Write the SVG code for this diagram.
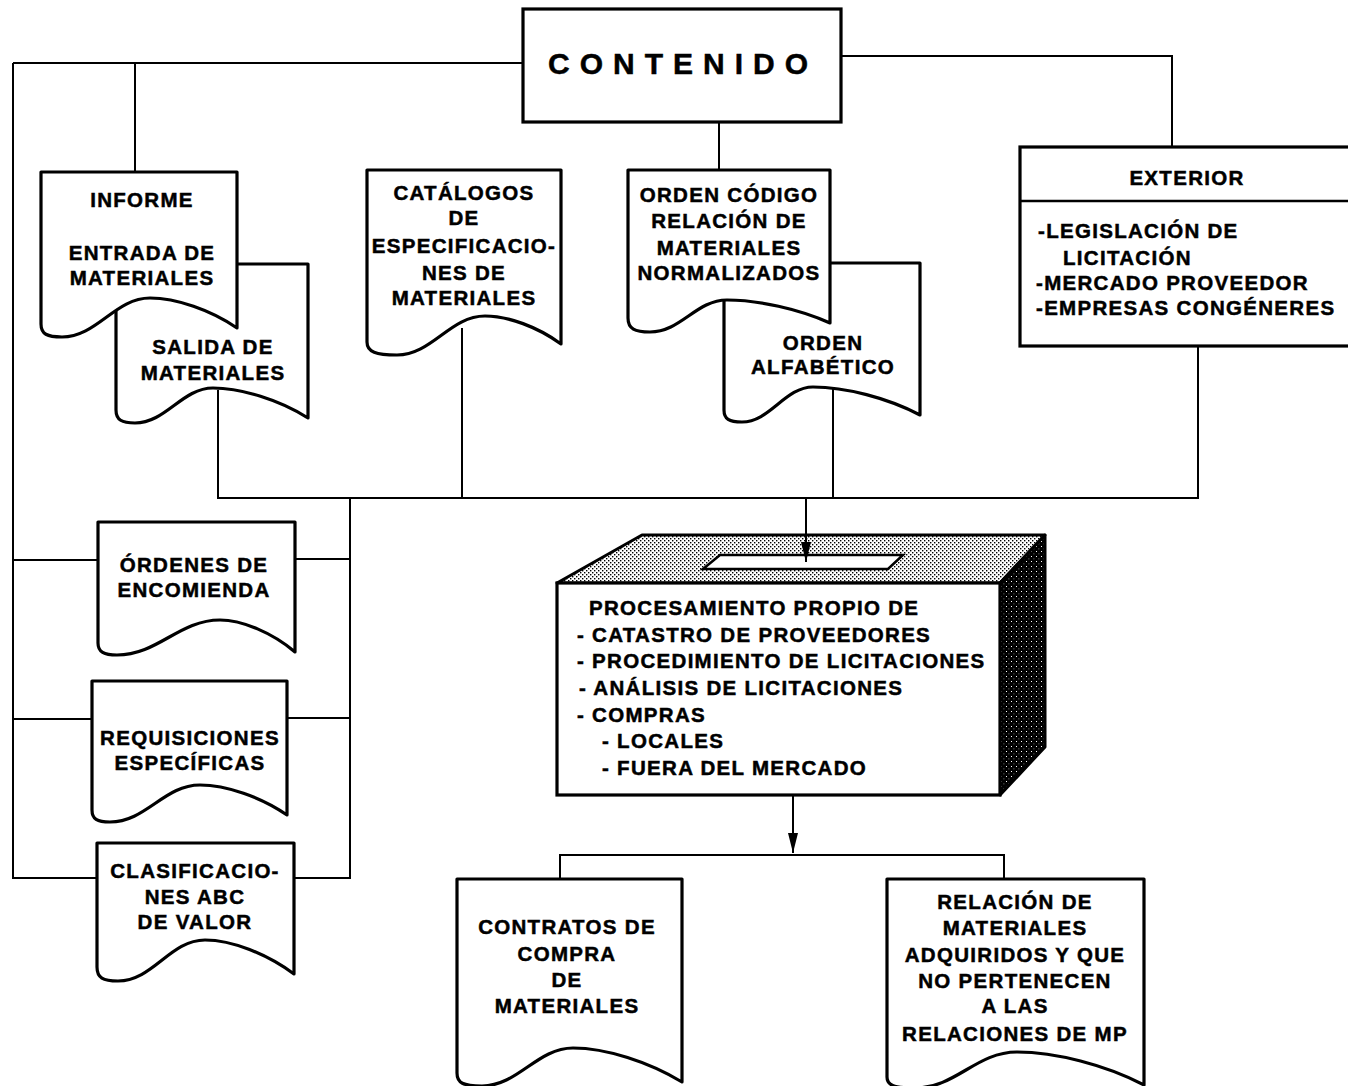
<svg xmlns="http://www.w3.org/2000/svg" width="1348" height="1086" viewBox="0 0 1348 1086">
  <style>
    .doc { fill: #fff; stroke: #000; stroke-width: 3.2; stroke-linejoin: round; }
    .box { fill: #fff; stroke: #000; stroke-width: 3.2; }
    .wire { fill: none; stroke: #000; stroke-width: 2; }
    .lbl { font-family: "Liberation Sans", Arial, Helvetica, sans-serif; font-weight: bold; font-size: 20.5px; letter-spacing: 1.3px; fill: #000; stroke: #000; stroke-width: 0.5px; }
    .c { text-anchor: middle; }
  </style>
  <defs>
    <marker id="arrow" viewBox="0 0 20 10" refX="20" refY="5" markerWidth="20" markerHeight="10" markerUnits="userSpaceOnUse" orient="auto">
      <path d="M0,0 L20,5 L0,10 Z" fill="#000"/>
    </marker>
    <!-- halftone for the lid of the box -->
    <pattern id="lidTone" width="4" height="4" patternUnits="userSpaceOnUse">
      <rect width="4" height="4" fill="#fff"/>
      <rect width="1.4" height="1.4" fill="#000"/>
      <rect x="2" y="2" width="1.4" height="1.4" fill="#000"/>
    </pattern>
    <!-- dark halftone for the side of the box -->
    <pattern id="sideTone" width="5" height="5" patternUnits="userSpaceOnUse">
      <rect width="5" height="5" fill="#000"/>
      <rect x="1" y="1" width="1" height="1" fill="#fff"/>
      <rect x="3.5" y="3.5" width="0.8" height="0.8" fill="#bbb"/>
    </pattern>
  </defs>

  <!-- connectors -->
  <g id="connectors">
    <path class="wire" d="M13,63 H523"/>
    <path class="wire" d="M13,63 V878 H97"/>
    <path class="wire" d="M13,560 H98"/>
    <path class="wire" d="M13,719 H92"/>
    <path class="wire" d="M135,63 V172"/>
    <path class="wire" d="M841,56 H1172 V147"/>
    <path class="wire" d="M719,122 V170"/>
    <path class="wire" d="M218,390 V498 H1198 V346"/>
    <path class="wire" d="M462,328 V498"/>
    <path class="wire" d="M833,388 V498"/>
    <path class="wire" d="M350,498 V878 H294"/>
    <path class="wire" d="M295,559 H350"/>
    <path class="wire" d="M287,718 H350"/>
    <path class="wire" d="M560,879 V855 H1004 V879"/>
  </g>

  <!-- title box -->
  <g id="contenido">
    <rect class="box" x="523" y="9" width="318" height="113"/>
    <text class="lbl" x="548" y="74" style="font-size:30px;letter-spacing:10px">CONTENIDO</text>
  </g>

  <!-- report of incoming / outgoing materials -->
  <g id="salida">
    <path class="doc" d="M116,264 H308 V418 C280,400 241,388 213,388 C182,388 166,423 135,423 C122,423 116,420 116,410 Z"/>
    <text class="lbl c" x="213" y="354">SALIDA DE</text>
    <text class="lbl c" x="213" y="380">MATERIALES</text>
  </g>
  <g id="informe">
    <path class="doc" d="M41,172 H237 V328 C211,310 176,298 150,298 C115,298 97,337 62,337 C47,337 41,334 41,324 Z"/>
    <text class="lbl c" x="142" y="207">INFORME</text>
    <text class="lbl c" x="142" y="260">ENTRADA DE</text>
    <text class="lbl c" x="142" y="285">MATERIALES</text>
  </g>

  <g id="catalogos">
    <path class="doc" d="M367,170 H561 V344 C538,327 508,316 485,316 C450,316 432,355 397,355 C376,355 367,352 367,342 Z"/>
    <text class="lbl c" x="464" y="200">CATÁLOGOS</text>
    <text class="lbl c" x="464" y="225">DE</text>
    <text class="lbl c" x="464" y="253">ESPECIFICACIO-</text>
    <text class="lbl c" x="464" y="280">NES DE</text>
    <text class="lbl c" x="464" y="305">MATERIALES</text>
  </g>

  <g id="orden-alfabetico">
    <path class="doc" d="M724,263 H920 V415 C888,398 845,387 813,387 C785,387 770,422 742,422 C729,422 724,419 724,410 Z"/>
    <text class="lbl c" x="823" y="350">ORDEN</text>
    <text class="lbl c" x="823" y="374">ALFABÉTICO</text>
  </g>
  <g id="orden-codigo">
    <path class="doc" d="M628,170 H830 V323 C799,309 758,300 727,300 C696,300 681,332 650,332 C635,332 628,329 628,318 Z"/>
    <text class="lbl c" x="729" y="202">ORDEN CÓDIGO</text>
    <text class="lbl c" x="729" y="228">RELACIÓN DE</text>
    <text class="lbl c" x="729" y="255">MATERIALES</text>
    <text class="lbl c" x="729" y="280">NORMALIZADOS</text>
  </g>

  <g id="exterior">
    <rect class="box" x="1020" y="147" width="334" height="199"/>
    <line x1="1020" y1="201" x2="1354" y2="201" stroke="#000" stroke-width="2.5"/>
    <text class="lbl c" x="1187" y="185">EXTERIOR</text>
    <text class="lbl" x="1038" y="238">-LEGISLACIÓN DE</text>
    <text class="lbl" x="1063" y="265">LICITACIÓN</text>
    <text class="lbl" x="1036" y="290">-MERCADO PROVEEDOR</text>
    <text class="lbl" x="1036" y="315">-EMPRESAS CONGÉNERES</text>
  </g>

  <g id="ordenes-encomienda">
    <path class="doc" d="M98,522 H295 V652 C273,633 242,620 220,620 C179,620 158,655 117,655 C104,655 98,652 98,643 Z"/>
    <text class="lbl c" x="194" y="572">ÓRDENES DE</text>
    <text class="lbl c" x="194" y="597">ENCOMIENDA</text>
  </g>
  <g id="requisiciones">
    <path class="doc" d="M92,681 H287 V815 C261,797 226,785 200,785 C164,785 146,822 110,822 C97,822 92,819 92,810 Z"/>
    <text class="lbl c" x="190" y="745">REQUISICIONES</text>
    <text class="lbl c" x="190" y="770">ESPECÍFICAS</text>
  </g>
  <g id="clasificaciones">
    <path class="doc" d="M97,843 H294 V974 C267,954 232,940 205,940 C170,940 153,981 118,981 C103,981 97,978 97,967 Z"/>
    <text class="lbl c" x="195" y="878">CLASIFICACIO-</text>
    <text class="lbl c" x="195" y="904">NES ABC</text>
    <text class="lbl c" x="195" y="929">DE VALOR</text>
  </g>

  <!-- processing box drawn as a ballot box -->
  <g id="procesamiento">
    <polygon points="557,583 642,535 1045,535 1000,583" fill="url(#lidTone)" stroke="#000" stroke-width="3" stroke-linejoin="round"/>
    <polygon points="1000,583 1045,535 1045,747 1000,795" fill="url(#sideTone)" stroke="#000" stroke-width="3" stroke-linejoin="round"/>
    <polygon points="720,555 903,555 888,569 703,569" fill="#fff" stroke="#000" stroke-width="2.5"/>
    <rect class="box" x="557" y="583" width="443" height="212"/>
    <text class="lbl" x="589" y="615">PROCESAMIENTO PROPIO DE</text>
    <text class="lbl" x="577" y="642">- CATASTRO DE PROVEEDORES</text>
    <text class="lbl" x="577" y="668">- PROCEDIMIENTO DE LICITACIONES</text>
    <text class="lbl" x="579" y="695">- ANÁLISIS DE LICITACIONES</text>
    <text class="lbl" x="577" y="722">- COMPRAS</text>
    <text class="lbl" x="602" y="748">- LOCALES</text>
    <text class="lbl" x="602" y="775">- FUERA DEL MERCADO</text>
  </g>

  <!-- arrows into and out of the box -->
  <g id="arrows">
    <path class="wire" d="M806,498 V562" marker-end="url(#arrow)"/>
    <path class="wire" d="M793,795 V853" marker-end="url(#arrow)"/>
  </g>

  <g id="contratos">
    <path class="doc" d="M457,879 H682 V1082 C649,1062 606,1048 573,1048 C537,1048 518,1086 482,1086 C463,1086 457,1083 457,1073 Z"/>
    <text class="lbl c" x="567" y="934">CONTRATOS DE</text>
    <text class="lbl c" x="567" y="961">COMPRA</text>
    <text class="lbl c" x="567" y="987">DE</text>
    <text class="lbl c" x="567" y="1013">MATERIALES</text>
  </g>
  <g id="relacion-adquiridos">
    <path class="doc" d="M887,879 H1144 V1085 C1106,1065 1055,1052 1017,1052 C976,1052 956,1088 915,1088 C893,1088 887,1085 887,1077 Z"/>
    <text class="lbl c" x="1015" y="909">RELACIÓN DE</text>
    <text class="lbl c" x="1015" y="935">MATERIALES</text>
    <text class="lbl c" x="1015" y="962">ADQUIRIDOS Y QUE</text>
    <text class="lbl c" x="1015" y="988">NO PERTENECEN</text>
    <text class="lbl c" x="1015" y="1013">A LAS</text>
    <text class="lbl c" x="1015" y="1041">RELACIONES DE MP</text>
  </g>
</svg>
